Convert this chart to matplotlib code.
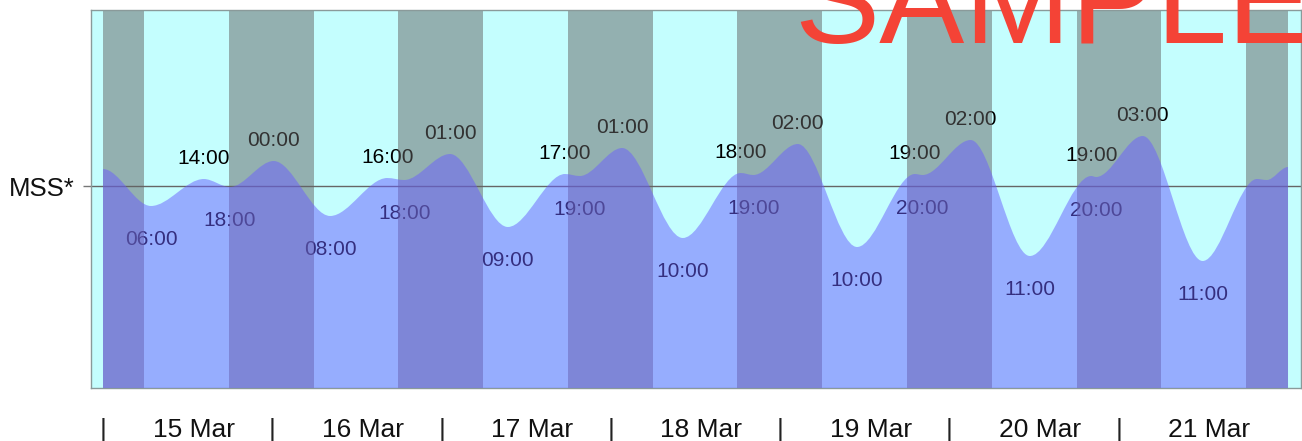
import matplotlib.pyplot as plt
from matplotlib.path import Path
from matplotlib.patches import PathPatch
from matplotlib.transforms import blended_transform_factory

plt.rcParams['font.family'] = ['Liberation Sans', 'DejaVu Sans']

## data (hours counted from 15 Mar 00:00, heights in m)
ext_hours = [0.0, 6.8, 14.3, 18.0, 24.2, 32.2, 40.3, 42.7, 49.2, 57.4, 65.5, 67.6,
             73.6, 82.2, 90.4, 92.2, 98.5, 106.9, 115.1, 116.2, 123.0, 131.4,
             140.1, 140.8, 147.4, 155.9, 163.6, 165.0, 168.0]
ext_heights = [2.19, 1.82, 2.09, 2.01, 2.27, 1.72, 2.10, 2.08, 2.34, 1.61, 2.14, 2.12,
               2.40, 1.50, 2.15, 2.13, 2.44, 1.41, 2.14, 2.13, 2.48, 1.32,
               2.12, 2.11, 2.52, 1.27, 2.09, 2.08, 2.21]
ext_kind = ['', 'L', 'H', 'L', 'H', 'L', 'H', 'L', 'H', 'L', 'H', 'L',
            'H', 'L', 'H', 'L', 'H', 'L', 'H', 'L', 'H', 'L',
            'H', 'L', 'H', 'L', '', '', '']
ext_labels = ['', '06:00', '14:00', '18:00', '00:00', '08:00', '16:00', '18:00', '01:00',
              '09:00', '17:00', '19:00', '01:00', '10:00', '18:00', '19:00', '02:00',
              '10:00', '19:00', '20:00', '02:00', '11:00', '19:00', '20:00', '03:00',
              '11:00', '', '', '']
mss_level = 2.015
days = ['15 Mar', '16 Mar', '17 Mar', '18 Mar', '19 Mar', '20 Mar', '21 Mar']
sunrise = [5.8, 5.9, 5.9, 6.0, 5.9, 6.0, 6.0]
sunset = [17.9, 17.8, 17.9, 17.9, 18.0, 18.1, 18.0]

## figure
fig = plt.figure(figsize=(13.02, 4.41), dpi=100)
ax = fig.add_axes([91/1302, 53/441, 1210/1302, 378/441])
ax.set_facecolor('#c4fefe')
ax.set_xlim(-1.70, 169.84)
ax.set_ylim(0, 3.78)

# night bands
nights = [(0.0, sunrise[0])]
for d in range(len(days)):
    start = 24*d + sunset[d]
    end = 24*(d+1) + sunrise[d+1] if d+1 < len(days) else 24*len(days)
    nights.append((start, end))
for a, b in nights:
    ax.axvspan(a, b, facecolor='#646464', alpha=0.5, lw=0, zorder=2)

# mean sea surface line
ax.axhline(mss_level, color='#666666', lw=1, zorder=1.5)

# water level as smooth bezier path through the extremes
t_end = ext_hours[-1]
verts = [(ext_hours[0], 0), (ext_hours[0], ext_heights[0])]
codes = [Path.MOVETO, Path.LINETO]
for i in range(len(ext_hours)-1):
    t0, h0 = ext_hours[i], ext_heights[i]
    t1, h1 = ext_hours[i+1], ext_heights[i+1]
    dt = t1 - t0
    verts += [(t0 + dt/3, h0), (t1 - dt/3, h1), (t1, h1)]
    codes += [Path.CURVE4]*3
verts += [(t_end, 0), (ext_hours[0], 0)]
codes += [Path.LINETO, Path.CLOSEPOLY]
ax.add_patch(PathPatch(Path(verts, codes), facecolor='#6a5eff', alpha=0.5, lw=0, zorder=3))

# tide time labels (under the overlays)
for t, h, k, lab in zip(ext_hours, ext_heights, ext_kind, ext_labels):
    if not lab:
        continue
    dy = 15.1 if k == 'H' else -23.8
    ax.annotate(lab, (t, h), xytext=(0, dy), textcoords='offset points',
                ha='center', va='center', fontsize=15, color='black', zorder=1.6)

# day labels
trans = blended_transform_factory(ax.transData, ax.transAxes)
for d, name in enumerate(days):
    ax.text(24*d, -0.0794, '|', transform=trans, ha='center', va='top',
            fontsize=19, color='#222222')
    ax.annotate(name, (24*d + 12, -0.0794), xycoords=trans, xytext=(4.3, 0),
                textcoords='offset points', ha='center', va='top',
                fontsize=19, color='#111111')

# axes formatting
ax.set_xticks([])
ax.set_yticks([mss_level], ['MSS*'])
ax.tick_params(axis='y', length=5.76, width=1, color='#777777', pad=5.8,
               labelsize=18.5, labelcolor='#111111')
for sp in ax.spines.values():
    sp.set_color('#8a9a9a')
    sp.set_linewidth(1)

fig.text(794/1302, 1 - 43.3/441, 'SAMPLE', fontsize=92, color='#f44336',
         ha='left', va='baseline')

fig.savefig('out.png', dpi=100)
